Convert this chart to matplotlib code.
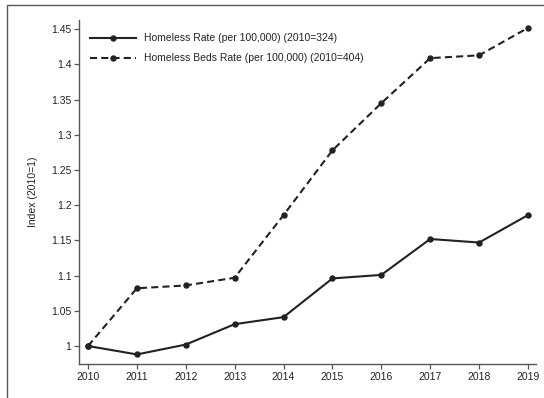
import matplotlib
matplotlib.use("Agg")
import matplotlib.pyplot as plt
from matplotlib.patches import Rectangle
from matplotlib.ticker import FuncFormatter

years = [2010, 2011, 2012, 2013, 2014, 2015, 2016, 2017, 2018, 2019]
homeless_rate = [1.0, 0.988, 1.002, 1.031, 1.041, 1.096, 1.101, 1.152, 1.147, 1.186]
beds_rate = [1.0, 1.082, 1.086, 1.097, 1.186, 1.278, 1.345, 1.409, 1.413, 1.452]
yticks = [1.0, 1.05, 1.1, 1.15, 1.2, 1.25, 1.3, 1.35, 1.4, 1.45]
label_rate = "Homeless Rate (per 100,000) (2010=324)"
label_beds = "Homeless Beds Rate (per 100,000) (2010=404)"
ylabel = "Index (2010=1)"

plt.rcParams['font.family'] = ['Liberation Sans', 'DejaVu Sans']

W, H = 544, 398
fig = plt.figure(figsize=(W / 100, H / 100), dpi=100)
fig.patch.set_facecolor('white')

# outer frame (top & left visible)
fig.patches.append(Rectangle((7 / W, -0.1), 1.2, 1 - 5 / H + 0.1, transform=fig.transFigure,
                             fill=False, edgecolor='#555555', linewidth=1.0))

ax = fig.add_axes([79 / W, 1 - 364 / H, (536 - 79) / W, (364 - 20) / H])
lc = '#222222'
ax.plot(years, homeless_rate, color=lc, lw=1.5, marker='o', markersize=3.6, label=label_rate)
ax.plot(years, beds_rate, color=lc, lw=1.5, marker='o', markersize=3.6, dashes=(3.4, 2.0),
        label=label_beds)

ax.set_xlim(2009.816, 2019.164)
ax.set_ylim(0.9744, 1.4632)
ax.set_xticks(years)
ax.set_yticks(yticks)
ax.yaxis.set_major_formatter(FuncFormatter(lambda v, p: f"{v:g}"))

for s in ['top', 'right']:
    ax.spines[s].set_visible(False)
for s in ['left', 'bottom']:
    ax.spines[s].set_color('#555555')
    ax.spines[s].set_linewidth(1.0)
ax.tick_params(direction='out', length=3.5, width=0.9, color='#555555',
               labelsize=7.5, labelcolor='#222222', pad=2)

fig.text(33 / W, 1 - 192 / H, ylabel, rotation=90, ha='center', va='center',
         fontsize=7.5, color='#222222')

leg = ax.legend(loc='upper left', frameon=False, fontsize=7.5, handlelength=4.4,
                handletextpad=0.8, labelspacing=0.95, borderaxespad=0.3,
                bbox_to_anchor=(4 / 457, 1 - 6 / 344))
for t in leg.get_texts():
    t.set_color('#222222')

fig.savefig('out.png', dpi=100, facecolor='white')
